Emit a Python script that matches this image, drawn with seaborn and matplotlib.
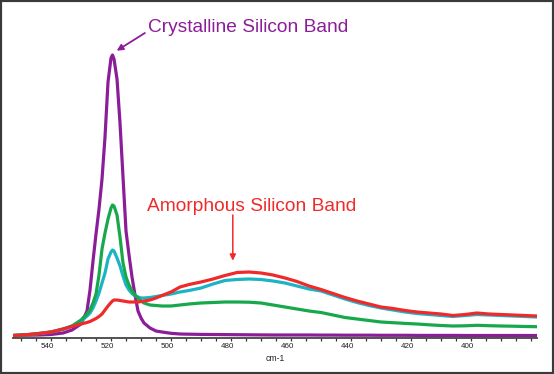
import matplotlib
matplotlib.use("Agg")
import matplotlib.pyplot as plt
from matplotlib.patches import Rectangle
from matplotlib.ticker import MultipleLocator
from matplotlib.transforms import ScaledTranslation
import seaborn as sns
import pandas as pd

# ---- data ----
wavenumber = [553, 548, 544, 540, 536, 533, 530, 528, 527, 526, 525, 524, 523, 522, 521, 520,
              519.5, 519, 518, 517, 516, 515, 514, 513, 512, 511, 510, 509, 507, 505, 503, 500,
              497, 494, 490, 486, 482, 478, 474, 470, 466, 462, 458, 454, 450, 446, 442, 438,
              434, 430, 426, 422, 418, 414, 410, 406, 402, 398, 394, 390, 386, 382, 378]

crystalline = [1.5, 1.8, 2, 2.5, 4, 7, 13, 26, 47, 76, 103, 128, 158, 200, 255, 279,
               282, 278, 258, 214, 160, 106, 82, 60, 42, 26, 19, 14, 9, 6, 5, 3.7,
               3, 2.8, 2.6, 2.5, 2.4, 2.3, 2.2, 2.1, 2, 2, 2, 2, 1.9, 1.9, 1.8, 1.8,
               1.8, 1.7, 1.7, 1.7, 1.6, 1.6, 1.6, 1.6, 1.5, 1.5, 1.5, 1.5, 1.5, 1.5, 1.5]

mixed_green = [1.5, 2.3, 3.5, 5, 8, 11, 17, 23, 27, 34, 43, 62, 88, 104, 118, 129,
               132, 131, 122, 100, 74, 60, 52, 46, 42, 39, 36, 34, 32, 31.5, 31, 31,
               32, 33, 34, 34.5, 35, 35, 34.8, 34, 32, 30, 28, 26, 24.5, 22, 19.5, 18,
               16.5, 15, 14.3, 13.6, 13, 12.2, 11.5, 11, 11.2, 11.7, 11.3, 11, 10.8, 10.5, 10.3]

mixed_cyan = [1.5, 2.3, 3.5, 5, 7.5, 11, 15.5, 21, 24, 29, 36, 44, 54, 64, 78, 85,
              87, 86, 79, 71, 61, 52, 47, 43.5, 41, 40, 39, 39, 39.5, 40.5, 41.5, 43,
              45, 46.5, 49, 53, 56.5, 57.5, 58, 57.5, 56, 54, 51, 48, 46, 42, 38, 34.5,
              31.5, 29, 27, 25, 23.5, 22.5, 21.5, 20.5, 21.5, 22.5, 22, 21.5, 21, 20.5, 20]

amorphous = [1.3, 2.3, 3.5, 5, 8, 10.5, 13, 14.5, 15.5, 17, 18.5, 20.5, 23, 27, 31, 34.5,
             36, 37, 37, 36.5, 36, 35.5, 35, 35, 35, 35, 35.5, 36, 37, 39, 41.5, 45,
             50, 52.5, 55, 58, 61.5, 64.5, 65, 64, 62, 59, 55.5, 51, 47.5, 43.5, 39.5, 36,
             33, 30, 28.5, 26.5, 25, 24, 23, 21.5, 22.5, 24, 23, 22.5, 22, 21.5, 21]

series_names = ["crystalline", "cyan", "green", "amorphous"]
series_colors = ["#8c1d99", "#1cb4c4", "#17a84b", "#f02a2a"]
xtick_labels = ["540", "520", "500", "480", "460", "440", "420", "400"]
x_label = "cm-1"
label_crystalline = "Crystalline Silicon Band"
label_amorphous = "Amorphous Silicon Band"

frames = []
for name, vals in zip(series_names, [crystalline, mixed_cyan, mixed_green, amorphous]):
    frames.append(pd.DataFrame({"wn": wavenumber, "intensity": vals, "series": name}))
df = pd.concat(frames, ignore_index=True)

# ---- figure ----
sns.set_style("white")
plt.rcParams["font.family"] = ["Liberation Sans", "DejaVu Sans"]

W, H = 554, 374
fig = plt.figure(figsize=(W / 100, H / 100), dpi=100)
left_px, right_px, bottom_px = 13, 537, 337.5
ax = fig.add_axes([left_px / W, (H - bottom_px) / H, (right_px - left_px) / W, bottom_px / H])

sns.lineplot(data=df, x="wn", y="intensity", hue="series", hue_order=series_names,
             palette=dict(zip(series_names, series_colors)), linewidth=2.3,
             legend=False, ax=ax, sort=False, estimator=None)

ax.set_xlim(552.67, 378)
ax.set_ylim(-0.5, 337)

for s in ["left", "right", "top"]:
    ax.spines[s].set_visible(False)
ax.spines["bottom"].set_color("#444444")
ax.spines["bottom"].set_linewidth(1.3)
ax.set_yticks([])
ax.set_ylabel("")

major = [540, 520, 500, 480, 460, 440, 420, 400]
ax.set_xticks(major)
ax.set_xticklabels(xtick_labels)
ax.xaxis.set_minor_locator(MultipleLocator(5))
ax.tick_params(axis="x", which="both", direction="out", length=2.5, width=0.9,
               color="#333333", bottom=True, labelsize=5.8, labelcolor="#222222", pad=1.5)
for lab in ax.get_xticklabels():
    lab.set_transform(lab.get_transform() + ScaledTranslation(-4 / 100, 0, fig.dpi_scale_trans))
ax.set_xlabel(x_label, fontsize=6.2, color="#222222", labelpad=3)

# annotations
ax.annotate("", xy=(518.1, 286.3), xytext=(508.7, 304),
            arrowprops=dict(arrowstyle="-|>", color=series_colors[0], lw=1.3, mutation_scale=9,
                            shrinkA=0, shrinkB=0))
ax.text(507.7, 309, label_crystalline, color=series_colors[0], fontsize=13.8,
        ha="left", va="center")

ax.annotate("", xy=(479.4, 76.3), xytext=(479.4, 122),
            arrowprops=dict(arrowstyle="-|>", color=series_colors[3], lw=1.1, mutation_scale=9,
                            shrinkA=0, shrinkB=0))
ax.text(507.9, 130.3, label_amorphous, color=series_colors[3], fontsize=13.8,
        ha="left", va="center")

# outer frame
fig.patches.append(Rectangle((0, 0), 1, 1, transform=fig.transFigure, fill=False,
                             edgecolor="#3a3a3a", linewidth=3.0, zorder=10))

fig.savefig("out.png", dpi=100)
